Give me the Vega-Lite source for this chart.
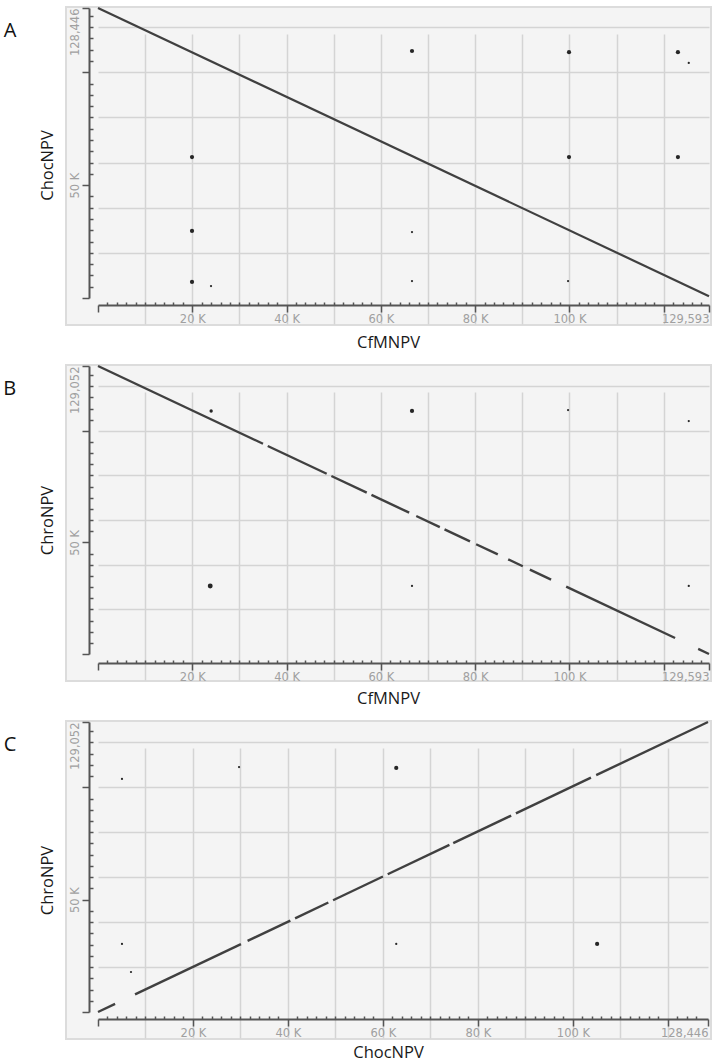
{
  "$schema": "https://vega.github.io/schema/vega-lite/v6.json",
  "background": "white",
  "padding": {"left": 2, "top": 5, "right": 0, "bottom": 0},
  "spacing": 11,
  "config": {
    "view": {"fill": "#f4f4f4", "stroke": "#dcdcdc", "strokeWidth": 2},
    "axis": {
      "domainColor": "#555555", "domainWidth": 2,
      "tickColor": "#555555", "tickWidth": 1.5,
      "labelColor": "#a0a0a0", "labelFont": "DejaVu Sans", "labelFontSize": 11.5,
      "labelOverlap": false, "labelFlush": false, "labelBound": false,
      "grid": true, "gridColor": "#d4d4d4", "gridWidth": 1.5,
      "titleFont": "Open Sans", "titleFontSize": 16.5, "titleFontWeight": "normal", "titleColor": "#1a1a1a",
      "titleAlign": "center", "titleBaseline": "middle"
    },
    "title": {"font": "Open Sans", "fontSize": 20, "fontWeight": "normal", "color": "#111111"}
  },
  "datasets": {
    "segs": [
      {"p": "A", "x": 0, "y": 128446, "x2": 129593, "y2": 800},
      {"p": "B", "x": 0, "y": 129052, "x2": 35000, "y2": 94198},
      {"p": "B", "x": 36000, "y": 93202, "x2": 48500, "y2": 80754},
      {"p": "B", "x": 49500, "y": 79758, "x2": 57000, "y2": 72290},
      {"p": "B", "x": 58000, "y": 71290, "x2": 66000, "y2": 63327},
      {"p": "B", "x": 67500, "y": 61834, "x2": 72500, "y2": 56855},
      {"p": "B", "x": 73500, "y": 55858, "x2": 78900, "y2": 50481},
      {"p": "B", "x": 80200, "y": 49190, "x2": 84800, "y2": 44610},
      {"p": "B", "x": 87000, "y": 42410, "x2": 90100, "y2": 39330},
      {"p": "B", "x": 91600, "y": 37830, "x2": 96100, "y2": 33350},
      {"p": "B", "x": 99300, "y": 30170, "x2": 122400, "y2": 7160},
      {"p": "B", "x": 127300, "y": 2280, "x2": 129593, "y2": 0},
      {"p": "C", "x": 0, "y": 0, "x2": 3600, "y2": 3617},
      {"p": "C", "x": 7800, "y": 7837, "x2": 30100, "y2": 30242},
      {"p": "C", "x": 31500, "y": 31649, "x2": 40500, "y2": 40691},
      {"p": "C", "x": 41500, "y": 41696, "x2": 48500, "y2": 48729},
      {"p": "C", "x": 49500, "y": 49734, "x2": 60000, "y2": 60283},
      {"p": "C", "x": 61000, "y": 61288, "x2": 74000, "y2": 74349},
      {"p": "C", "x": 74800, "y": 75150, "x2": 87000, "y2": 87410},
      {"p": "C", "x": 88000, "y": 88420, "x2": 103800, "y2": 104290},
      {"p": "C", "x": 104900, "y": 105400, "x2": 128446, "y2": 129052}
    ],
    "dots": [
      {"p": "A", "x": 19940, "y": 62400, "w": 2},
      {"p": "A", "x": 19940, "y": 29700, "w": 2},
      {"p": "A", "x": 19940, "y": 7100, "w": 2},
      {"p": "A", "x": 23970, "y": 5300, "w": 1},
      {"p": "A", "x": 99900, "y": 108900, "w": 2},
      {"p": "A", "x": 123000, "y": 108900, "w": 2},
      {"p": "A", "x": 125300, "y": 104100, "w": 1},
      {"p": "A", "x": 99900, "y": 62400, "w": 2},
      {"p": "A", "x": 123000, "y": 62400, "w": 2},
      {"p": "A", "x": 99700, "y": 7500, "w": 1},
      {"p": "A", "x": 66600, "y": 109400, "w": 2},
      {"p": "A", "x": 66600, "y": 29200, "w": 1},
      {"p": "A", "x": 66600, "y": 7500, "w": 1},
      {"p": "B", "x": 24000, "y": 108900, "w": 1.5},
      {"p": "B", "x": 66600, "y": 108900, "w": 2},
      {"p": "B", "x": 99700, "y": 109300, "w": 1},
      {"p": "B", "x": 125300, "y": 104400, "w": 1},
      {"p": "B", "x": 23800, "y": 30500, "w": 2.5},
      {"p": "B", "x": 66600, "y": 30500, "w": 1},
      {"p": "B", "x": 125300, "y": 30500, "w": 1},
      {"p": "C", "x": 5050, "y": 103700, "w": 1},
      {"p": "C", "x": 29700, "y": 109000, "w": 1},
      {"p": "C", "x": 5050, "y": 30300, "w": 1},
      {"p": "C", "x": 6950, "y": 17800, "w": 1},
      {"p": "C", "x": 105100, "y": 30300, "w": 2},
      {"p": "C", "x": 62800, "y": 108600, "w": 2},
      {"p": "C", "x": 62800, "y": 30300, "w": 1}
    ]
  },
  "vconcat": [
    {
      "width": 645, "height": 318,
      "title": {"text": "A", "orient": "left", "anchor": "end", "angle": 0, "align": "right", "baseline": "top", "offset": 10, "dy": 14},
      "layer": [
        {
          "data": {"name": "segs"},
          "transform": [{"filter": "datum.p === 'A'"}],
          "mark": {"type": "rule", "color": "#404040", "strokeWidth": 2.2},
          "encoding": {
            "x": {"field": "x", "type": "quantitative",
              "scale": {"domain": [0, 129593], "range": [32, 643], "nice": false, "zero": false},
              "axis": {
                "title": "CfMNPV", "offset": -20, "tickCount": 400,
                "values": [0,2000,4000,6000,8000,10000,12000,14000,16000,18000,20000,22000,24000,26000,28000,30000,32000,34000,36000,38000,40000,42000,44000,46000,48000,50000,52000,54000,56000,58000,60000,62000,64000,66000,68000,70000,72000,74000,76000,78000,80000,82000,84000,86000,88000,90000,92000,94000,96000,98000,100000,102000,104000,106000,108000,110000,112000,114000,116000,118000,120000,122000,124000,126000,128000,129593],
                "tickSize": {"condition": {"test": "datum.value % 20000 === 0 || datum.value > 129000", "value": 7}, "value": -3},
                "labelExpr": "datum.value === 129593 ? '129,593' : (datum.value % 20000 === 0 && datum.value > 0 && datum.value <= 100000) ? (datum.value / 1000 + ' K') : ''",
                "labelAlign": {"condition": {"test": "datum.value > 129000", "value": "right"}, "value": "center"},
                "labelPadding": 1,
                "gridOpacity": {"condition": {"test": "datum.value % 10000 === 0 && datum.value > 0 && datum.value < 129000", "value": 1}, "value": 0},
                "titleX": 322, "titleY": 37
              }},
            "y": {"field": "y", "type": "quantitative",
              "scale": {"domain": [0, 128446], "range": [291, 1], "nice": false, "zero": false},
              "axis": {
                "title": "ChocNPV", "offset": -23, "tickCount": 400,
                "values": [0,5000,10000,15000,20000,25000,30000,35000,40000,45000,50000,55000,60000,65000,70000,75000,80000,85000,90000,95000,100000,105000,110000,115000,120000,125000,128446],
                "tickSize": {"condition": {"test": "datum.value % 50000 === 0 || datum.value > 128000", "value": 7}, "value": -4},
                "labelExpr": "datum.value === 128446 ? '128,446' : datum.value === 50000 ? '50 K' : ''",
                "labelAngle": -90,
                "labelAlign": {"condition": {"test": "datum.value > 128000", "value": "right"}, "value": "center"},
                "labelBaseline": "bottom", "labelPadding": 2,
                "gridOpacity": {"condition": {"test": "datum.value % 20000 === 0 && datum.value > 0", "value": 1}, "value": 0},
                "titleAngle": -90, "titleX": -42, "titleY": 158
              }},
            "x2": {"field": "x2"},
            "y2": {"field": "y2"}
          }
        },
        {
          "data": {"name": "dots"},
          "transform": [{"filter": "datum.p === 'A'"}],
          "mark": {"type": "circle", "color": "#262626", "opacity": 1},
          "encoding": {
            "x": {"field": "x", "type": "quantitative"},
            "y": {"field": "y", "type": "quantitative"},
            "size": {"field": "w", "type": "quantitative", "scale": {"domain": [1, 2.5], "range": [5, 24]}, "legend": null}
          }
        }
      ]
    },
    {
      "width": 645, "height": 316,
      "title": {"text": "B", "orient": "left", "anchor": "end", "angle": 0, "align": "right", "baseline": "top", "offset": 10, "dy": 14},
      "layer": [
        {
          "data": {"name": "segs"},
          "transform": [{"filter": "datum.p === 'B'"}],
          "mark": {"type": "rule", "color": "#404040", "strokeWidth": 2.4},
          "encoding": {
            "x": {"field": "x", "type": "quantitative",
              "scale": {"domain": [0, 129593], "range": [32, 643], "nice": false, "zero": false},
              "axis": {
                "title": "CfMNPV", "offset": -18, "tickCount": 400,
                "values": [0,2000,4000,6000,8000,10000,12000,14000,16000,18000,20000,22000,24000,26000,28000,30000,32000,34000,36000,38000,40000,42000,44000,46000,48000,50000,52000,54000,56000,58000,60000,62000,64000,66000,68000,70000,72000,74000,76000,78000,80000,82000,84000,86000,88000,90000,92000,94000,96000,98000,100000,102000,104000,106000,108000,110000,112000,114000,116000,118000,120000,122000,124000,126000,128000,129593],
                "tickSize": {"condition": {"test": "datum.value % 20000 === 0 || datum.value > 129000", "value": 7}, "value": -3},
                "labelExpr": "datum.value === 129593 ? '129,593' : (datum.value % 20000 === 0 && datum.value > 0 && datum.value <= 100000) ? (datum.value / 1000 + ' K') : ''",
                "labelAlign": {"condition": {"test": "datum.value > 129000", "value": "right"}, "value": "center"},
                "labelPadding": 1,
                "gridOpacity": {"condition": {"test": "datum.value % 10000 === 0 && datum.value > 0 && datum.value < 129000", "value": 1}, "value": 0},
                "titleX": 322, "titleY": 35
              }},
            "y": {"field": "y", "type": "quantitative",
              "scale": {"domain": [0, 129052], "range": [289, 1], "nice": false, "zero": false},
              "axis": {
                "title": "ChroNPV", "offset": -23, "tickCount": 400,
                "values": [0,5000,10000,15000,20000,25000,30000,35000,40000,45000,50000,55000,60000,65000,70000,75000,80000,85000,90000,95000,100000,105000,110000,115000,120000,125000,129052],
                "tickSize": {"condition": {"test": "datum.value % 50000 === 0 || datum.value > 128000", "value": 7}, "value": -4},
                "labelExpr": "datum.value === 129052 ? '129,052' : datum.value === 50000 ? '50 K' : ''",
                "labelAngle": -90,
                "labelAlign": {"condition": {"test": "datum.value > 128000", "value": "right"}, "value": "center"},
                "labelBaseline": "bottom", "labelPadding": 2,
                "gridOpacity": {"condition": {"test": "datum.value % 20000 === 0 && datum.value > 0", "value": 1}, "value": 0},
                "titleAngle": -90, "titleX": -42, "titleY": 155
              }},
            "x2": {"field": "x2"},
            "y2": {"field": "y2"}
          }
        },
        {
          "data": {"name": "dots"},
          "transform": [{"filter": "datum.p === 'B'"}],
          "mark": {"type": "circle", "color": "#262626", "opacity": 1},
          "encoding": {
            "x": {"field": "x", "type": "quantitative"},
            "y": {"field": "y", "type": "quantitative"},
            "size": {"field": "w", "type": "quantitative", "scale": {"domain": [1, 2.5], "range": [5, 24]}, "legend": null}
          }
        }
      ]
    },
    {
      "width": 645, "height": 318,
      "title": {"text": "C", "orient": "left", "anchor": "end", "angle": 0, "align": "right", "baseline": "top", "offset": 10, "dy": 14},
      "layer": [
        {
          "data": {"name": "segs"},
          "transform": [{"filter": "datum.p === 'C'"}],
          "mark": {"type": "rule", "color": "#404040", "strokeWidth": 2.4},
          "encoding": {
            "x": {"field": "x", "type": "quantitative",
              "scale": {"domain": [0, 128446], "range": [32, 642], "nice": false, "zero": false},
              "axis": {
                "title": "ChocNPV", "offset": -20, "tickCount": 400,
                "values": [0,2000,4000,6000,8000,10000,12000,14000,16000,18000,20000,22000,24000,26000,28000,30000,32000,34000,36000,38000,40000,42000,44000,46000,48000,50000,52000,54000,56000,58000,60000,62000,64000,66000,68000,70000,72000,74000,76000,78000,80000,82000,84000,86000,88000,90000,92000,94000,96000,98000,100000,102000,104000,106000,108000,110000,112000,114000,116000,118000,120000,122000,124000,126000,128446],
                "tickSize": {"condition": {"test": "datum.value % 20000 === 0 || datum.value > 128000", "value": 7}, "value": -3},
                "labelExpr": "datum.value === 128446 ? '128,446' : (datum.value % 20000 === 0 && datum.value > 0 && datum.value <= 100000) ? (datum.value / 1000 + ' K') : ''",
                "labelAlign": {"condition": {"test": "datum.value > 128000", "value": "right"}, "value": "center"},
                "labelPadding": 1,
                "gridOpacity": {"condition": {"test": "datum.value % 10000 === 0 && datum.value > 0 && datum.value < 128000", "value": 1}, "value": 0},
                "titleX": 322, "titleY": 33
              }},
            "y": {"field": "y", "type": "quantitative",
              "scale": {"domain": [0, 129052], "range": [291, 1], "nice": false, "zero": false},
              "axis": {
                "title": "ChroNPV", "offset": -23, "tickCount": 400,
                "values": [0,5000,10000,15000,20000,25000,30000,35000,40000,45000,50000,55000,60000,65000,70000,75000,80000,85000,90000,95000,100000,105000,110000,115000,120000,125000,129052],
                "tickSize": {"condition": {"test": "datum.value % 50000 === 0 || datum.value > 128000", "value": 7}, "value": -4},
                "labelExpr": "datum.value === 129052 ? '129,052' : datum.value === 50000 ? '50 K' : ''",
                "labelAngle": -90,
                "labelAlign": {"condition": {"test": "datum.value > 128000", "value": "right"}, "value": "center"},
                "labelBaseline": "bottom", "labelPadding": 2,
                "gridOpacity": {"condition": {"test": "datum.value % 20000 === 0 && datum.value > 0", "value": 1}, "value": 0},
                "titleAngle": -90, "titleX": -42, "titleY": 159
              }},
            "x2": {"field": "x2"},
            "y2": {"field": "y2"}
          }
        },
        {
          "data": {"name": "dots"},
          "transform": [{"filter": "datum.p === 'C'"}],
          "mark": {"type": "circle", "color": "#262626", "opacity": 1},
          "encoding": {
            "x": {"field": "x", "type": "quantitative"},
            "y": {"field": "y", "type": "quantitative"},
            "size": {"field": "w", "type": "quantitative", "scale": {"domain": [1, 2.5], "range": [5, 24]}, "legend": null}
          }
        }
      ]
    }
  ]
}
